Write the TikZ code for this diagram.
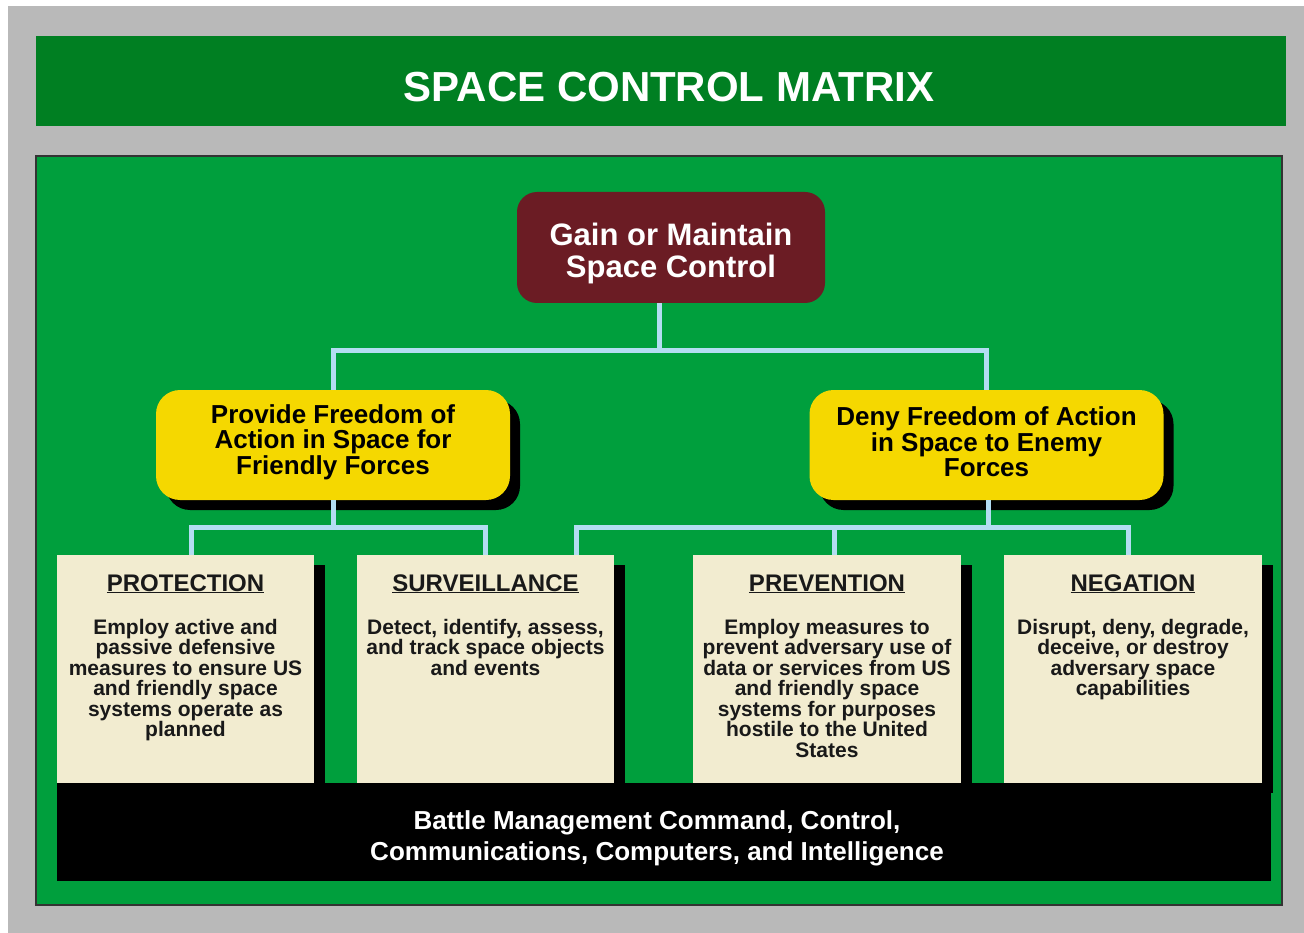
\documentclass[tikz,border=0pt]{standalone}
\usepackage{fontspec}
\setmainfont{Liberation Sans}
\usetikzlibrary{positioning,shadows}

\definecolor{framegray}{HTML}{B9B9B9}
\definecolor{bannergreen}{HTML}{007F22}
\definecolor{fieldgreen}{HTML}{009F3D}
\definecolor{rootmaroon}{HTML}{6B1C24}
\definecolor{goalyellow}{HTML}{F5D800}
\definecolor{cellcream}{HTML}{F2ECD0}
\definecolor{linkblue}{HTML}{B3DDF2}

\newcommand{\missionfont}[2]{\fontsize{#1}{#2}\selectfont\bfseries}
% width, title, body of one matrix cell
\newcommand{\matrixcell}[3]{%
  \parbox[c][228pt][t]{#1}{\centering
    {\missionfont{24}{28}\rule{0pt}{36pt}\underline{#2}\par}
    \vspace{22.5pt}
    {\missionfont{21}{20.5}#3\par}}}

\begin{document}
\begin{tikzpicture}[x=1pt,y=-1pt,
  link/.style={draw=linkblue, line width=5pt},
  rootbox/.style={fill=rootmaroon, text=white, rounded corners=20pt,
    minimum width=308pt, minimum height=111pt, align=center,
    font=\missionfont{31}{32}},
  goal/.style={fill=goalyellow, rounded corners=24pt, align=center,
    minimum width=354pt, minimum height=110pt, font=\missionfont{26}{25.5},
    drop shadow={shadow xshift=10pt, shadow yshift=-10pt, opacity=1, fill=black}},
  cell/.style={fill=cellcream, inner sep=0pt, text=black!90,
    drop shadow={shadow xshift=11pt, shadow yshift=-10pt, opacity=1, fill=black}}
]
  \useasboundingbox[fill=white] (0,0) rectangle (1304,933);
  \fill[framegray] (8,6) rectangle (1304,933);

  \node[fill=bannergreen, minimum width=1250pt, minimum height=90pt] (banner) at (661,81) {};
  \node[text=white, font=\missionfont{42}{48}] (title) at (669,87) {SPACE CONTROL MATRIX};

  \draw[draw=black!80, line width=1.5pt, fill=fieldgreen] (36,156) rectangle (1282,905);

  \node[rootbox] (root) at (671,247.5) {\rule{0pt}{34pt}Gain or Maintain\\Space Control};

  \node[goal] (provide) at (333,445) {Provide Freedom of\\Action in Space for\\Friendly Forces\rule[-11.5pt]{0pt}{0pt}};
  \node[goal] (deny) at (986.5,445) {Deny Freedom of Action\\in Space to Enemy\\Forces\rule[-6pt]{0pt}{0pt}};

  \node[cell, minimum width=257pt] (protection) at (185.5,669)
    {\matrixcell{250pt}{PROTECTION}{Employ active and\\passive defensive\\measures to ensure US\\and friendly space\\systems operate as\\planned}};
  \node[cell, minimum width=257pt] (surveillance) at (485.5,669)
    {\matrixcell{250pt}{SURVEILLANCE}{Detect, identify, assess,\\and track space objects\\and events}};
  \node[cell, minimum width=268pt] (prevention) at (827,669)
    {\matrixcell{262pt}{PREVENTION}{Employ measures to\\prevent adversary use of\\data or services from US\\and friendly space\\systems for purposes\\hostile to the United\\States}};
  \node[cell, minimum width=258pt] (negation) at (1133,669)
    {\matrixcell{250pt}{NEGATION}{Disrupt, deny, degrade,\\deceive, or destroy\\adversary space\\capabilities}};

  \node[fill=black, inner sep=0pt, minimum width=1214pt, minimum height=98pt] (bar) at (664,832) {};
  \node[text=white, align=center, font=\missionfont{26}{31}] (bmc4i) at (657,838)
    {Battle Management Command, Control,\\Communications, Computers, and Intelligence};

  % tree links
  \coordinate (fork1) at (659,350);
  \coordinate (fork2) at (333,527);
  \coordinate (fork3) at (988,527);
  \coordinate (prot-in) at ([xshift=5.5pt]protection.north);
  \coordinate (surv-in) at ([xshift=90.5pt]surveillance.north);
  \coordinate (prev-in) at ([xshift=7pt]prevention.north);
  \coordinate (nega-in) at ([xshift=-5pt]negation.north);

  \draw[link] (fork1 |- root.south) -- (fork1);
  \draw[link] (provide.north) |- (fork1) -| (deny.north);
  \draw[link] (provide.south) -- (fork2);
  \draw[link] (prot-in) |- (fork2) -| (surveillance.north);
  \draw[link] (fork3 |- deny.south) -- (fork3);
  \draw[link] (surv-in) |- (fork3) -| (nega-in);
  \draw[link] (prev-in) -- (prev-in |- fork3);
\end{tikzpicture}
\end{document}
